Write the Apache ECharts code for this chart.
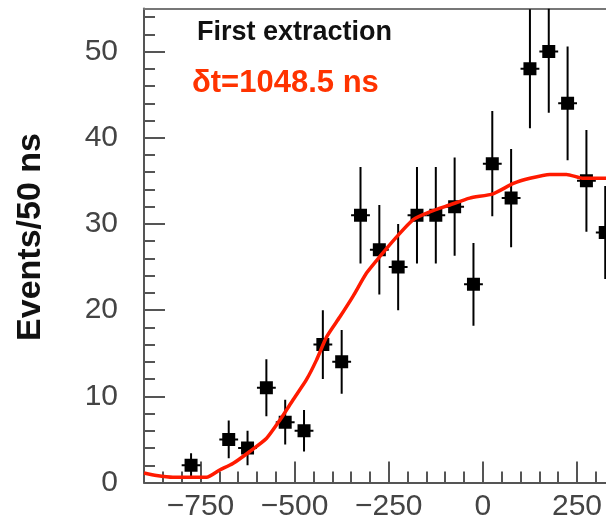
<!DOCTYPE html>
<html>
<head>
<meta charset="utf-8">
<script src="https://cdn.jsdelivr.net/npm/echarts@6/dist/echarts.min.js"></script>
<style>
  html, body { margin: 0; padding: 0; background: #fff; }
  #chart { width: 606px; height: 516px; }
</style>
</head>
<body>
<div id="chart"></div>
<script>
// ---- data ----
const binCenters = [-775, -675, -625, -575, -525, -475, -425, -375, -325, -275, -225, -175, -125, -75, -25, 25, 75, 125, 175, 225, 275, 325];
const counts     = [2, 5, 4, 11, 7, 6, 16, 14, 31, 27, 25, 31, 31, 32, 23, 37, 33, 48, 50, 44, 35, 29];
const countErrs  = [1.4, 2.2, 2.0, 3.3, 2.6, 2.4, 4.0, 3.7, 5.6, 5.2, 5.0, 5.6, 5.6, 5.7, 4.8, 6.1, 5.7, 6.9, 7.1, 6.6, 5.9, 5.4];
const binHalfWidth = 25;

const fitX = [-900, -867, -823, -734, -699, -664, -619, -575, -539, -504, -469, -442, -415, -380, -345, -309, -274, -229, -185, -141, -88, -35, 27, 81, 125, 178, 222, 267, 327];
const fitY = [1.1, 0.8, 0.6, 0.6, 1.45, 2.2, 3.6, 5.1, 7.25, 9.6, 11.9, 14.2, 16.9, 19.2, 21.6, 24.3, 26.2, 28.5, 30.5, 31.4, 32.2, 33.0, 33.5, 34.7, 35.3, 35.75, 35.75, 35.3, 35.3];

const xMajorTicks = [-750, -500, -250, 0, 250];
const xMinorTicks = [-850, -800, -700, -650, -600, -550, -450, -400, -350, -300, -200, -150, -100, -50, 50, 100, 150, 200, 300];
const yMajorTicks = [0, 10, 20, 30, 40, 50];
const yMinorTicks = [2, 4, 6, 8, 12, 14, 16, 18, 22, 24, 26, 28, 32, 34, 36, 38, 42, 44, 46, 48, 52, 54];

const X_MIN = -900, X_MAX = 327, Y_MIN = 0, Y_MAX = 55;
const FONT = '"Liberation Sans", Arial, Helvetica, sans-serif';

const chart = echarts.init(document.getElementById('chart'), null, { renderer: 'canvas' });

const pointData = binCenters.map((x, i) => [x, counts[i], countErrs[i]]);
const fitData = fitX.map((x, i) => [x, fitY[i]]);

function renderPoint(params, api) {
  const x = api.value(0), y = api.value(1), e = api.value(2);
  const c = api.coord([x, y]);
  const top = api.coord([x, Math.min(y + e, Y_MAX)]);
  const bot = api.coord([x, Math.max(y - e, Y_MIN)]);
  const l = api.coord([x - binHalfWidth, y]);
  const r = api.coord([x + binHalfWidth, y]);
  return {
    type: 'group',
    children: [
      { type: 'line', shape: { x1: c[0], y1: top[1], x2: c[0], y2: bot[1] }, style: { stroke: '#000', lineWidth: 2 } },
      { type: 'line', shape: { x1: l[0], y1: c[1], x2: r[0], y2: c[1] }, style: { stroke: '#000', lineWidth: 2 } },
      { type: 'rect', shape: { x: c[0] - 6.5, y: c[1] - 6.5, width: 13, height: 13 }, style: { fill: '#000' } }
    ]
  };
}

const minusFmt = v => String(v).replace('-', '\u2212');

const option = {
  backgroundColor: '#fff',
  animation: false,
  grid: { left: 144, right: 0, top: 8.5, bottom: 33.5, containLabel: false, outerBoundsMode: 'none' },
  xAxis: [
    {
      type: 'value', min: X_MIN, max: X_MAX, position: 'bottom',
      axisLine: { show: true, onZero: false, lineStyle: { color: '#555', width: 2 } },
      axisTick: { show: true, inside: true, length: 21, customValues: xMajorTicks, lineStyle: { color: '#555', width: 2 } },
      axisLabel: { show: true, customValues: xMajorTicks, formatter: minusFmt, fontFamily: FONT, fontSize: 30, color: '#444', margin: 9 },
      splitLine: { show: false }
    },
    {
      type: 'value', min: X_MIN, max: X_MAX, position: 'bottom',
      axisLine: { show: false, onZero: false },
      axisTick: { show: true, inside: true, length: 11, customValues: xMinorTicks, lineStyle: { color: '#555', width: 2 } },
      axisLabel: { show: false },
      splitLine: { show: false }
    },
    {
      type: 'value', min: X_MIN, max: X_MAX, position: 'top',
      axisLine: { show: true, onZero: false, lineStyle: { color: '#777', width: 2 } },
      axisTick: { show: false }, axisLabel: { show: false }, splitLine: { show: false }
    }
  ],
  yAxis: [
    {
      type: 'value', min: Y_MIN, max: Y_MAX, position: 'left',
      name: 'Events/50 ns', nameLocation: 'middle', nameGap: 96, nameRotate: 90,
      nameTextStyle: { fontFamily: FONT, fontSize: 34, fontWeight: 'bold', color: '#111', padding: [0, 0, 0, 17] },
      axisLine: { show: true, onZero: false, lineStyle: { color: '#555', width: 2 } },
      axisTick: { show: true, inside: true, length: 21, customValues: yMajorTicks, lineStyle: { color: '#555', width: 2 } },
      axisLabel: { show: true, customValues: yMajorTicks, fontFamily: FONT, fontSize: 30, color: '#444', margin: 26 },
      splitLine: { show: false }
    },
    {
      type: 'value', min: Y_MIN, max: Y_MAX, position: 'left',
      axisLine: { show: false, onZero: false },
      axisTick: { show: true, inside: true, length: 11, customValues: yMinorTicks, lineStyle: { color: '#555', width: 2 } },
      axisLabel: { show: false },
      splitLine: { show: false }
    }
  ],
  graphic: [
    { type: 'text', x: 197, y: 32.5, style: { text: 'First extraction', font: 'bold 27px ' + FONT, fill: '#111', textAlign: 'left', textVerticalAlign: 'middle' } },
    { type: 'text', x: 192, y: 83, style: { text: '\u03b4t=1048.5 ns', font: 'bold 31px ' + FONT, fill: '#ff3300', textAlign: 'left', textVerticalAlign: 'middle' } }
  ],
  series: [
    {
      type: 'custom', xAxisIndex: 0, yAxisIndex: 0, renderItem: renderPoint,
      data: pointData, clip: true, z: 2
    },
    {
      type: 'line', xAxisIndex: 0, yAxisIndex: 0, data: fitData, smooth: 0.2,
      showSymbol: false, symbol: 'none', clip: true, z: 3,
      lineStyle: { color: '#ff1a00', width: 3.5 }
    }
  ]
};

chart.setOption(option);
</script>
</body>
</html>
